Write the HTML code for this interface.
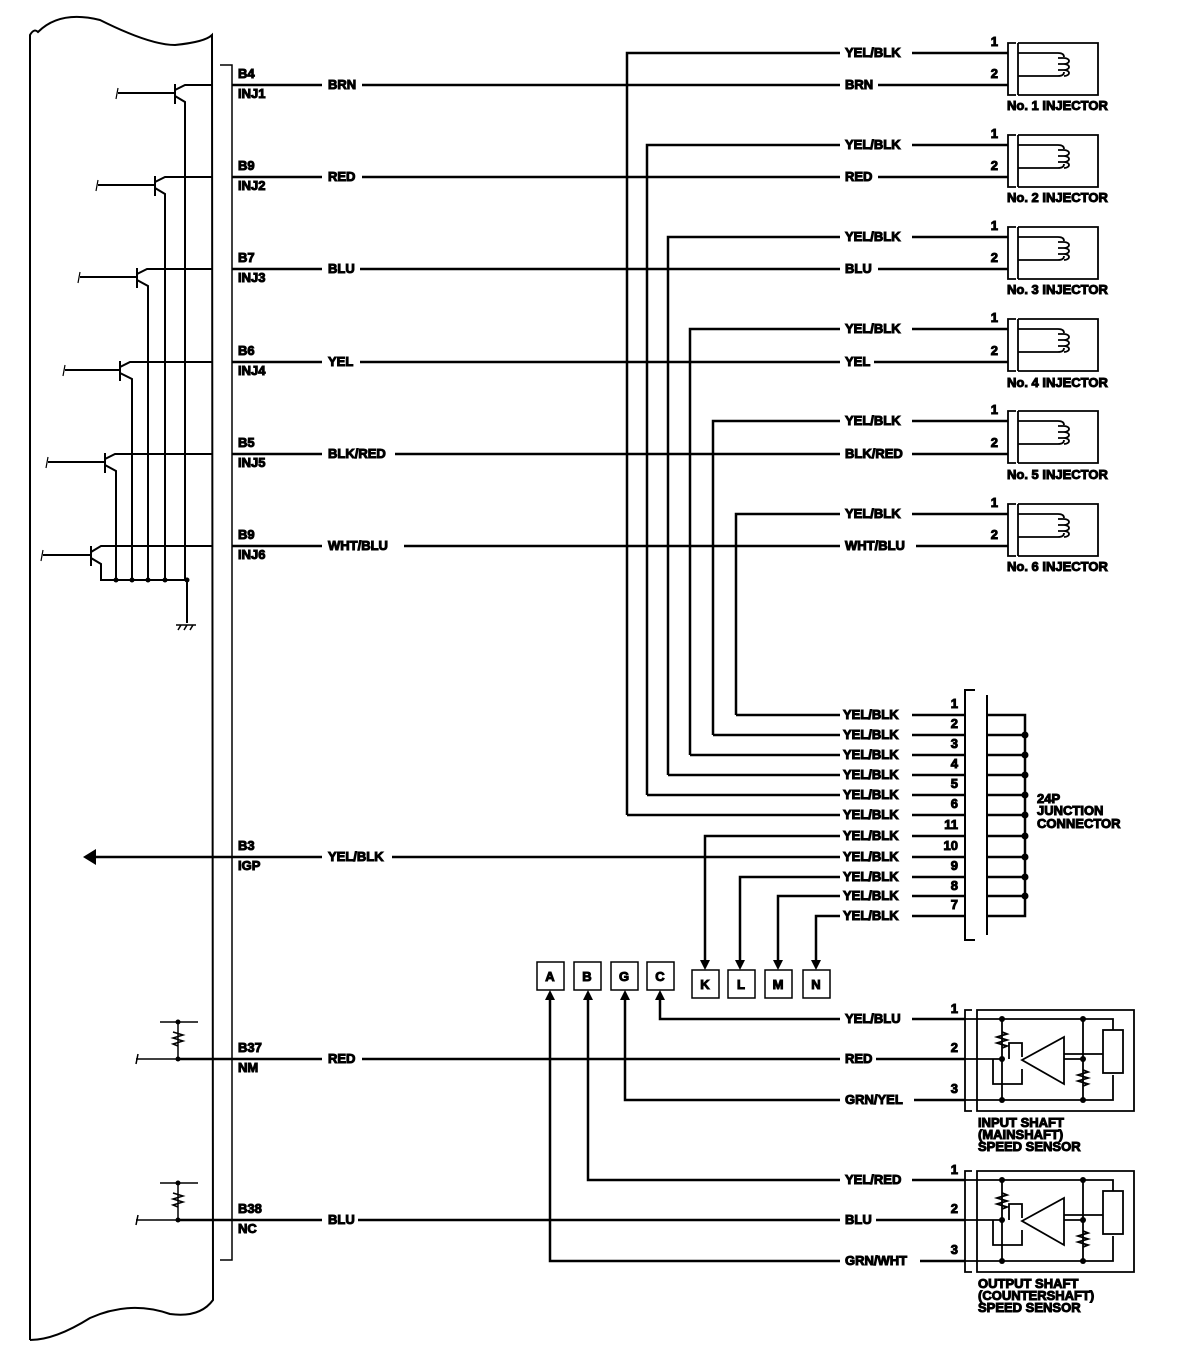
<!DOCTYPE html>
<html><head><meta charset="utf-8"><style>
html,body{margin:0;padding:0;background:#fff}
svg{display:block}
text{font-family:"Liberation Sans",sans-serif;font-weight:bold;font-size:13px;fill:#000}
</style></head><body>
<svg width="1184" height="1358" viewBox="0 0 1184 1358" xmlns="http://www.w3.org/2000/svg" stroke="#000" fill="none" stroke-linecap="butt">
<!-- ECM body -->
<path d="M30 1340 L30 35 Q34 28 38 32 Q60 10 100 20 Q150 45 175 45 Q205 42 212 35 L213 1300 Q200 1318 170 1314 Q130 1300 90 1318 Q55 1340 30 1340" stroke-width="2"/>
<!-- connector bracket -->
<path d="M220 65 H232 V1260 H220" stroke-width="1.5"/>
<g stroke-width="2.5">
<path d="M232 85 H322 M362 85 H840 M878 85 H1008"/>
<path d="M232 177 H322 M362 177 H840 M878 177 H1008"/>
<path d="M232 269 H322 M360 269 H840 M878 269 H1008"/>
<path d="M232 362 H322 M360 362 H840 M874 362 H1008"/>
<path d="M232 454 H322 M395 454 H840 M912 454 H1008"/>
<path d="M232 546 H322 M404 546 H840 M916 546 H1008"/>
<path d="M627 815 V53 H840 M912 53 H1008"/>
<path d="M647 795 V145 H840 M912 145 H1008"/>
<path d="M668 775 V237 H840 M912 237 H1008"/>
<path d="M690 755 V329 H840 M912 329 H1008"/>
<path d="M713 735 V421 H840 M912 421 H1008"/>
<path d="M736 715 V514 H840 M912 514 H1008"/>
<path d="M736 715 H840 M912 715 H965"/>
<path d="M713 735 H840 M912 735 H965"/>
<path d="M690 755 H840 M912 755 H965"/>
<path d="M668 775 H840 M912 775 H965"/>
<path d="M647 795 H840 M912 795 H965"/>
<path d="M627 815 H840 M912 815 H965"/>
<path d="M705 963 V836 H840 M912 836 H965"/>
<path d="M96 857 H232 M232 857 H322 M392 857 H840 M912 857 H965"/>
<path d="M740 963 V877 H840 M912 877 H965"/>
<path d="M778 963 V896 H840 M912 896 H965"/>
<path d="M816 963 V916 H840 M912 916 H965"/>
<path d="M987 715 H1025 V916 H987 M987 735 H1025 M987 755 H1025 M987 775 H1025 M987 795 H1025 M987 815 H1025 M987 836 H1025 M987 857 H1025 M987 877 H1025 M987 896 H1025"/>
<path d="M660 998 V1019 H840 M912 1019 H965"/>
<path d="M178 1059 H232 H322 M362 1059 H840 M876 1059 H965"/>
<path d="M625 998 V1100 H840 M914 1100 H965"/>
<path d="M588 998 V1180 H840 M912 1180 H965"/>
<path d="M178 1220 H232 H322 M358 1220 H840 M876 1220 H965"/>
<path d="M550 998 V1261 H840 M920 1261 H965"/>
</g>
<path d="M975 690 H965 V940 H975 M987 695 V935" stroke-width="2"/>
<g fill="#000" stroke="none">
<circle cx="1025" cy="735" r="3.5"/><circle cx="1025" cy="755" r="3.5"/><circle cx="1025" cy="775" r="3.5"/><circle cx="1025" cy="795" r="3.5"/><circle cx="1025" cy="815" r="3.5"/><circle cx="1025" cy="836" r="3.5"/><circle cx="1025" cy="857" r="3.5"/><circle cx="1025" cy="877" r="3.5"/><circle cx="1025" cy="896" r="3.5"/>
<path d="M83 857 L96 849 L96 865Z"/>
<path d="M705 970 L700 960 L710 960Z"/><path d="M740 970 L735 960 L745 960Z"/><path d="M778 970 L773 960 L783 960Z"/><path d="M816 970 L811 960 L821 960Z"/>
<path d="M660 990 L655 1000 L665 1000Z"/><path d="M625 990 L620 1000 L630 1000Z"/><path d="M588 990 L583 1000 L593 1000Z"/><path d="M550 990 L545 1000 L555 1000Z"/>
</g>
<g stroke-width="1.5" fill="#fff">
<rect x="537" y="962" width="27" height="28"/><rect x="574" y="962" width="27" height="28"/><rect x="611" y="962" width="27" height="28"/><rect x="647" y="962" width="27" height="28"/>
<rect x="692" y="970" width="27" height="28"/><rect x="728" y="970" width="27" height="28"/><rect x="765" y="970" width="27" height="28"/><rect x="803" y="970" width="27" height="28"/>
</g>
<g text-anchor="middle" font-size="13">
<text x="550" y="981">A</text><text x="587" y="981">B</text><text x="624" y="981">G</text><text x="660" y="981">C</text>
<text x="705" y="989">K</text><text x="741" y="989">L</text><text x="778" y="989">M</text><text x="816" y="989">N</text>
</g>
<g stroke-width="1.8">
<g id="inj"><path d="M1016 43 H1008 V95 H1016 M1018 43 V95 M1018 43 H1098 V95 H1018 M1018 53 H1058 Q1064 53 1064 57 M1018 76 H1058 Q1064 76 1064 72"/><path d="M1058 58 h6 a5 3 0 0 1 0 6 h-6 M1058 64 h6 a5 3 0 0 1 0 6 h-6 M1058 70 h6 a5 3 0 0 1 0 6"/></g>
<use href="#inj" y="92"/><use href="#inj" y="184"/><use href="#inj" y="276"/><use href="#inj" y="368"/><use href="#inj" y="461"/>
</g>
<g stroke-width="2">
<path d="M118 93 H175 M175 84 V104 M175 90 L185 85 H213 M175 96 L185 102 V580"/>
<path d="M98 185 H155 M155 176 V196 M155 182 L165 177 H213 M155 188 L165 194 V580"/>
<path d="M80 277 H137 M137 268 V288 M137 274 L147 269 H213 M137 280 L148 286 V580"/>
<path d="M65 370 H120 M120 361 V381 M120 367 L130 362 H213 M120 373 L132 379 V580"/>
<path d="M48 462 H105 M105 453 V473 M105 459 L115 454 H213 M105 465 L116 471 V580"/>
<path d="M43 555 H91 M91 546 V566 M91 552 L101 546 H213 M91 558 L101 564 V580 H187 V623"/>
<path d="M176 625 H196 M178 630 L181 625 M184 630 L187 625 M190 630 L193 625" stroke-width="1.5"/>
</g>
<g stroke-width="1.2"><path d="M118 88 L116 99 M98 180 L96 191 M80 272 L78 283 M65 365 L63 376 M48 457 L46 468 M43 550 L41 561"/></g>
<g fill="#000" stroke="none"><circle cx="116" cy="580" r="2.5"/><circle cx="132" cy="580" r="2.5"/><circle cx="148" cy="580" r="2.5"/><circle cx="165" cy="580" r="2.5"/><circle cx="187" cy="580" r="2.5"/></g>
<g stroke-width="1.5">
<path d="M178 1022 V1059 M160 1022 H198 M136 1059 H178 M173 1032 l10 3 -10 3 10 3 -10 3 5 2"/>
<path d="M178 1183 V1220 M160 1183 H198 M136 1220 H178 M173 1193 l10 3 -10 3 10 3 -10 3 5 2"/>
<path d="M138 1054 L136 1064 M138 1215 L136 1225"/>
</g>
<g fill="#000" stroke="none"><circle cx="178" cy="1022" r="2.5"/><circle cx="178" cy="1059" r="2.5"/><circle cx="178" cy="1183" r="2.5"/><circle cx="178" cy="1220" r="2.5"/></g>
<g stroke-width="1.8" id="sen">
<path d="M972 1010 H965 V1111 H972 M977 1010 H1134 V1111 H977 Z"/>
<path d="M965 1019 H1113 V1030 M965 1059 H1002 M965 1100 H1113 V1075 M1002 1019 V1100 M1083 1019 V1100 M1002 1032 l5 2 -10 3 10 3 -10 3 10 3 -5 2 M1083 1070 l5 2 -10 3 10 3 -10 3 10 3 -5 2 M1009 1059 V1043 H1022 V1057 M993 1059 V1084 H1022 V1069"/>
<path d="M1022 1060 L1064 1037 V1084 Z M1064 1054 H1103 M1064 1059 H1083"/>
<rect x="1103" y="1030" width="20" height="43" fill="#fff"/>
</g>
<g fill="#000" stroke="none"><circle cx="1002" cy="1019" r="3"/><circle cx="1002" cy="1059" r="3"/><circle cx="1002" cy="1100" r="3"/><circle cx="1083" cy="1019" r="3"/><circle cx="1083" cy="1059" r="3"/><circle cx="1083" cy="1100" r="3"/>
<circle cx="1002" cy="1180" r="3"/><circle cx="1002" cy="1220" r="3"/><circle cx="1002" cy="1261" r="3"/><circle cx="1083" cy="1180" r="3"/><circle cx="1083" cy="1220" r="3"/><circle cx="1083" cy="1261" r="3"/></g>
<use href="#sen" y="161"/>
<g>
<text x="238" y="78">B4</text><text x="238" y="98">INJ1</text>
<text x="238" y="170">B9</text><text x="238" y="190">INJ2</text>
<text x="238" y="262">B7</text><text x="238" y="282">INJ3</text>
<text x="238" y="355">B6</text><text x="238" y="375">INJ4</text>
<text x="238" y="447">B5</text><text x="238" y="467">INJ5</text>
<text x="238" y="539">B9</text><text x="238" y="559">INJ6</text>
<text x="238" y="850">B3</text><text x="238" y="870">IGP</text>
<text x="238" y="1052">B37</text><text x="238" y="1072">NM</text>
<text x="238" y="1213">B38</text><text x="238" y="1233">NC</text>
<text x="328" y="89">BRN</text><text x="328" y="181">RED</text><text x="328" y="273">BLU</text><text x="328" y="366">YEL</text><text x="328" y="458">BLK/RED</text><text x="328" y="550">WHT/BLU</text><text x="328" y="861">YEL/BLK</text><text x="328" y="1063">RED</text><text x="328" y="1224">BLU</text>
<text x="845" y="89">BRN</text><text x="845" y="181">RED</text><text x="845" y="273">BLU</text><text x="845" y="366">YEL</text><text x="845" y="458">BLK/RED</text><text x="845" y="550">WHT/BLU</text>
<text x="845" y="57">YEL/BLK</text><text x="845" y="149">YEL/BLK</text><text x="845" y="241">YEL/BLK</text><text x="845" y="333">YEL/BLK</text><text x="845" y="425">YEL/BLK</text><text x="845" y="518">YEL/BLK</text>
<text x="843" y="719">YEL/BLK</text><text x="843" y="739">YEL/BLK</text><text x="843" y="759">YEL/BLK</text><text x="843" y="779">YEL/BLK</text><text x="843" y="799">YEL/BLK</text><text x="843" y="819">YEL/BLK</text><text x="843" y="840">YEL/BLK</text><text x="843" y="861">YEL/BLK</text><text x="843" y="881">YEL/BLK</text><text x="843" y="900">YEL/BLK</text><text x="843" y="920">YEL/BLK</text>
<text x="845" y="1023">YEL/BLU</text><text x="845" y="1063">RED</text><text x="845" y="1104">GRN/YEL</text>
<text x="845" y="1184">YEL/RED</text><text x="845" y="1224">BLU</text><text x="845" y="1265">GRN/WHT</text>
</g>
<g text-anchor="end">
<text x="998" y="46">1</text><text x="998" y="78">2</text><text x="998" y="138">1</text><text x="998" y="170">2</text><text x="998" y="230">1</text><text x="998" y="262">2</text><text x="998" y="322">1</text><text x="998" y="355">2</text><text x="998" y="414">1</text><text x="998" y="447">2</text><text x="998" y="507">1</text><text x="998" y="539">2</text>
<text x="958" y="708">1</text><text x="958" y="728">2</text><text x="958" y="748">3</text><text x="958" y="768">4</text><text x="958" y="788">5</text><text x="958" y="808">6</text><text x="958" y="829">11</text><text x="958" y="850">10</text><text x="958" y="870">9</text><text x="958" y="890">8</text><text x="958" y="909">7</text>
<text x="958" y="1013">1</text><text x="958" y="1052">2</text><text x="958" y="1093">3</text><text x="958" y="1174">1</text><text x="958" y="1213">2</text><text x="958" y="1254">3</text>
</g>
<g>
<text x="1007" y="110">No. 1 INJECTOR</text><text x="1007" y="202">No. 2 INJECTOR</text><text x="1007" y="294">No. 3 INJECTOR</text><text x="1007" y="387">No. 4 INJECTOR</text><text x="1007" y="479">No. 5 INJECTOR</text><text x="1007" y="571">No. 6 INJECTOR</text>
<text x="1037" y="803">24P</text><text x="1037" y="815">JUNCTION</text><text x="1037" y="828">CONNECTOR</text>
<text x="978" y="1127">INPUT SHAFT</text><text x="978" y="1139">(MAINSHAFT)</text><text x="978" y="1151">SPEED SENSOR</text>
<text x="978" y="1288">OUTPUT SHAFT</text><text x="978" y="1300">(COUNTERSHAFT)</text><text x="978" y="1312">SPEED SENSOR</text>
</g>
</svg>
</body></html>
